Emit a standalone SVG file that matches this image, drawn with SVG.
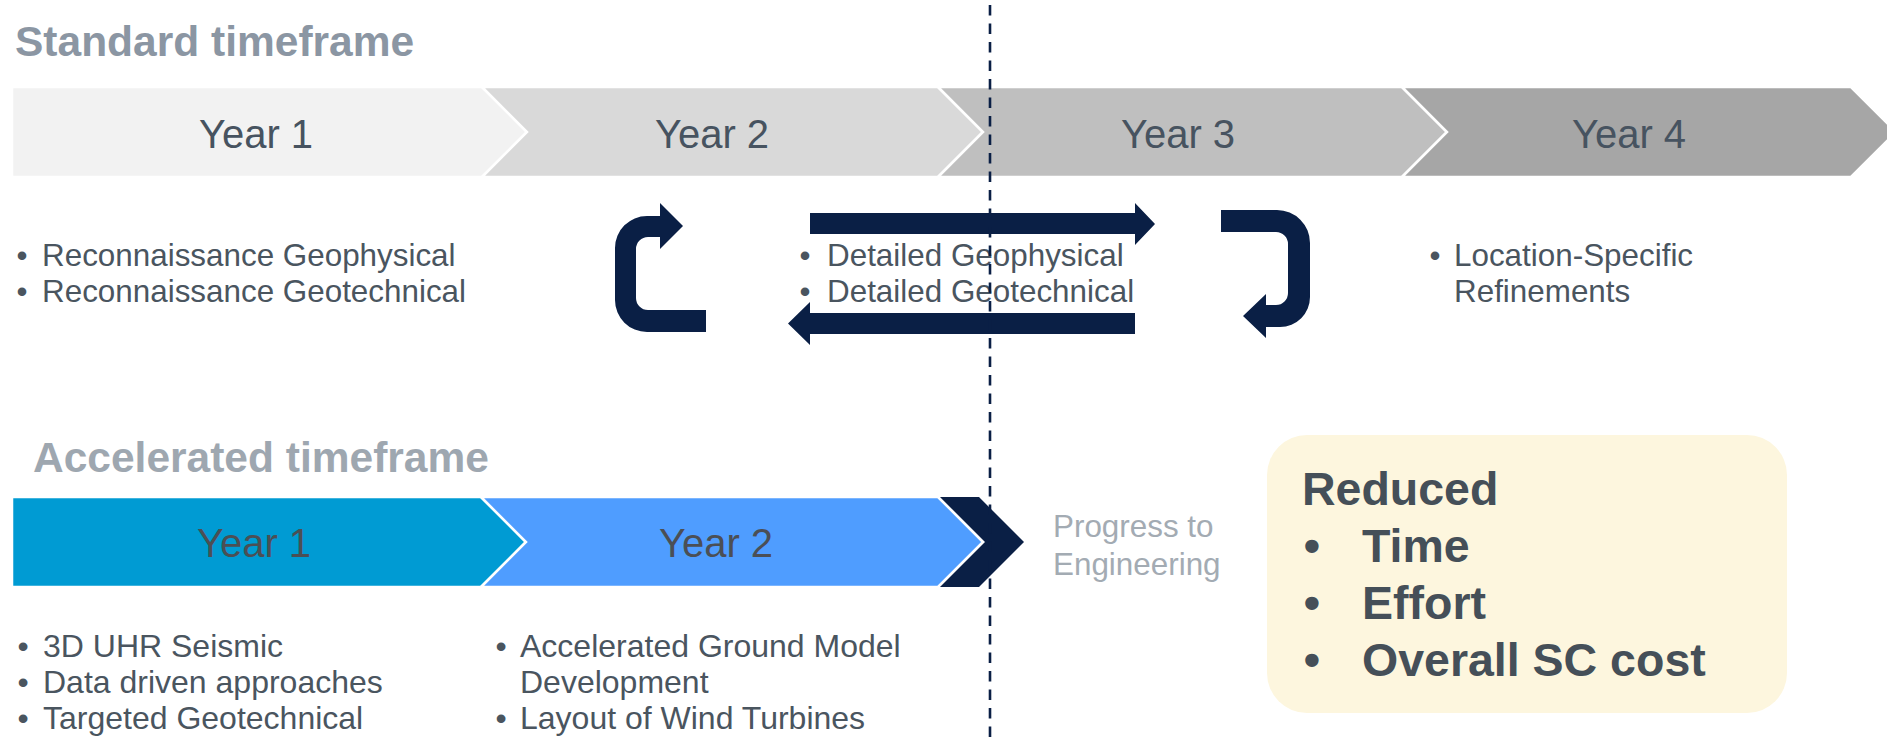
<svg xmlns="http://www.w3.org/2000/svg" width="1887" height="743" viewBox="0 0 1887 743">
<defs>
<style>
.title{font-family:"Liberation Sans",Arial,sans-serif;font-weight:bold;font-size:42.5px}
.yr{font-family:"Liberation Sans",Arial,sans-serif;font-size:40px;text-anchor:middle}
.body{font-family:"Liberation Sans",Arial,sans-serif;font-size:31.4px;fill:#4a555f}
.acc{font-size:32px}
.bul{text-anchor:middle}
.chev{stroke:#ffffff;stroke-width:2.5;stroke-linejoin:miter}
.navy{fill:#0a1f45}
.big{font-family:"Liberation Sans",Arial,sans-serif;font-weight:bold;font-size:46.5px;fill:#454f58}
</style>
</defs>
<rect width="1887" height="743" fill="#ffffff"/>

<text class="title" x="15" y="56" fill="#8b96a3">Standard timeframe</text>
<text class="title" x="33" y="472" fill="#9ea7b0">Accelerated timeframe</text>

<g id="std-year1">
<polygon class="chev" fill="#f2f2f2" points="12,87 482,87 527,132 482,177 12,177"/>
<text class="yr" x="256" y="148" fill="#475360">Year 1</text>
</g>
<g id="std-year2">
<polygon class="chev" fill="#d9d9d9" points="482,87 938,87 983,132 938,177 482,177 527,132"/>
<text class="yr" x="712" y="148" fill="#475360">Year 2</text>
</g>
<g id="std-year3">
<polygon class="chev" fill="#bfbfbf" points="938,87 1402,87 1447,132 1402,177 938,177 983,132"/>
<text class="yr" x="1178" y="148" fill="#475360">Year 3</text>
</g>
<g id="std-year4">
<polygon class="chev" fill="#a6a6a6" points="1402,87 1851,87 1896,132 1851,177 1402,177 1447,132"/>
<text class="yr" x="1629" y="148" fill="#475360">Year 4</text>
</g>

<g id="std-year1-notes">
<text class="body"><tspan class="bul" x="22" y="266">•</tspan><tspan x="42" y="266">Reconnaissance Geophysical</tspan></text>
<text class="body"><tspan class="bul" x="22" y="302">•</tspan><tspan x="42" y="302">Reconnaissance Geotechnical</tspan></text>
</g>
<g id="std-year23-notes">
<text class="body"><tspan class="bul" x="805" y="266">•</tspan><tspan x="827" y="266">Detailed Geophysical</tspan></text>
<text class="body"><tspan class="bul" x="805" y="302">•</tspan><tspan x="827" y="302">Detailed Geotechnical</tspan></text>
</g>
<g id="std-year4-notes">
<text class="body"><tspan class="bul" x="1435" y="266">•</tspan><tspan x="1454" y="266">Location-Specific</tspan></text>
<text class="body"><tspan x="1454" y="302">Refinements</tspan></text>
</g>

<g id="acc-year1">
<polygon class="chev" fill="#009bd3" points="12,497 481,497 526,542 481,587 12,587"/>
<text class="yr" x="254" y="557" fill="#4b4f55">Year 1</text>
</g>
<g id="acc-year2">
<polygon class="chev" fill="#4f9dff" points="481,497 938,497 983,542 938,587 481,587 526,542"/>
<text class="yr" x="716" y="557" fill="#4b4f55">Year 2</text>
</g>
<g id="acc-next">
<polygon class="navy" points="940,497 979,497 1024,542 979,587 940,587 985,542"/>
<text class="body" style="fill:#a3abb3"><tspan x="1053" y="537">Progress to</tspan><tspan x="1053" y="575">Engineering</tspan></text>
</g>

<g id="acc-year1-notes">
<text class="body acc"><tspan class="bul" x="23" y="657">•</tspan><tspan x="43" y="657">3D UHR Seismic</tspan></text>
<text class="body acc"><tspan class="bul" x="23" y="693">•</tspan><tspan x="43" y="693">Data driven approaches</tspan></text>
<text class="body acc"><tspan class="bul" x="23" y="729">•</tspan><tspan x="43" y="729">Targeted Geotechnical</tspan></text>
</g>
<g id="acc-year2-notes">
<text class="body acc"><tspan class="bul" x="501" y="657">•</tspan><tspan x="520" y="657">Accelerated Ground Model</tspan></text>
<text class="body acc"><tspan x="520" y="693">Development</tspan></text>
<text class="body acc"><tspan class="bul" x="501" y="729">•</tspan><tspan x="520" y="729">Layout of Wind Turbines</tspan></text>
</g>

<g id="benefits">
<rect x="1267" y="435" width="520" height="278" rx="40" ry="40" fill="#fdf6de"/>
<text class="big" x="1302" y="505">Reduced</text>
<text class="big"><tspan class="bul" x="1312" y="562">•</tspan><tspan x="1362" y="562">Time</tspan></text>
<text class="big"><tspan class="bul" x="1312" y="619">•</tspan><tspan x="1362" y="619">Effort</tspan></text>
<text class="big"><tspan class="bul" x="1312" y="676">•</tspan><tspan x="1362" y="676">Overall SC cost</tspan></text>
</g>

<g id="connectors">
<path class="navy" d="M706,332 L647,332 A32,32 0 0 1 615,300 L615,248 A32,32 0 0 1 647,216 L660,216 L660,203 L683,226 L660,249 L660,237 L648,237 A12,12 0 0 0 636,249 L636,298 A12,12 0 0 0 648,310 L706,310 Z"/>
<path class="navy" d="M810,213 L1135,213 L1135,203 L1155,224 L1135,245 L1135,234 L810,234 Z"/>
<path class="navy" d="M1135,313 L810,313 L810,302 L788,323.5 L810,345 L810,334 L1135,334 Z"/>
<path class="navy" d="M1221,210 L1277,210 A33,33 0 0 1 1310,243 L1310,297 A30,30 0 0 1 1280,327 L1266,327 L1266,338 L1243,316 L1266,294 L1266,305 L1276,305 A12,12 0 0 0 1288,293 L1288,244 A12,12 0 0 0 1276,232 L1221,232 Z"/>
</g>

<g id="divider">
<line x1="990" y1="5" x2="990" y2="743" stroke="#0a1f45" stroke-width="2.6" stroke-dasharray="10.5 8"/>
</g>
</svg>
